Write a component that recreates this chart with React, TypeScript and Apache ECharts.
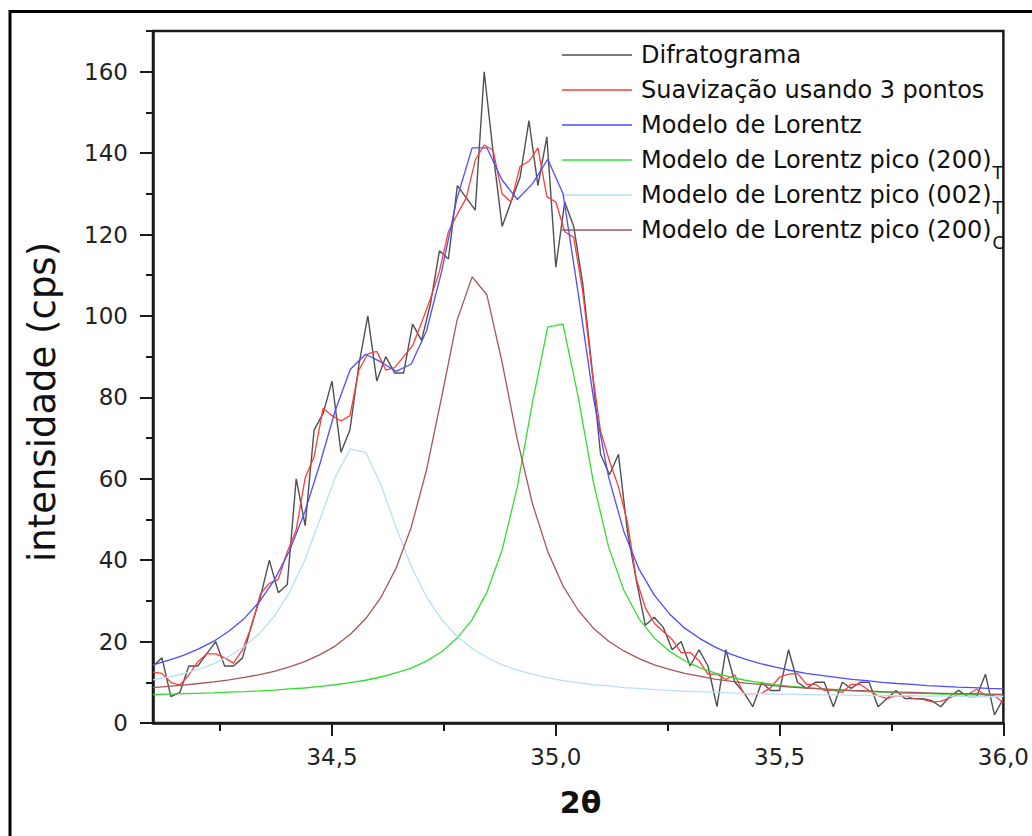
import React, { useEffect, useRef } from "react";
import * as echarts from "echarts";

// ---------- DATA ----------
const twoTheta = [
  34.10, 34.12, 34.14, 34.16, 34.18, 34.20, 34.22, 34.24, 34.26, 34.28,
  34.30, 34.32, 34.34, 34.36, 34.38, 34.40, 34.42, 34.44, 34.46, 34.48,
  34.50, 34.52, 34.54, 34.56, 34.58, 34.60, 34.62, 34.64, 34.66, 34.68,
  34.70, 34.72, 34.74, 34.76, 34.78, 34.80, 34.82, 34.84, 34.86, 34.88,
  34.90, 34.92, 34.94, 34.96, 34.98, 35.00, 35.02, 35.04, 35.06, 35.08,
  35.10, 35.12, 35.14, 35.16, 35.18, 35.20, 35.22, 35.24, 35.26, 35.28,
  35.30, 35.32, 35.34, 35.36, 35.38, 35.40, 35.42, 35.44, 35.46, 35.48,
  35.50, 35.52, 35.54, 35.56, 35.58, 35.60, 35.62, 35.64, 35.66, 35.68,
  35.70, 35.72, 35.74, 35.76, 35.78, 35.80, 35.82, 35.84, 35.86, 35.88,
  35.90, 35.92, 35.94, 35.96, 35.98, 36.00,
];

const difratograma = [
  14, 16, 6.5, 7.5, 14, 14, 17, 20, 14, 14,
  16, 24, 31, 40, 32, 34, 60, 48.5, 72, 76,
  84, 66.5, 72, 88, 100, 84, 90, 86, 86, 98,
  94, 103, 116, 114, 132, 129, 126, 160, 140, 122,
  128, 134, 148, 132, 144, 112, 128, 122, 108, 88,
  66, 61, 66, 47, 35, 24, 26, 23.5, 18, 20,
  14, 18, 14, 4, 18, 10, 7.5, 4, 10, 8,
  8, 18, 10, 8.5, 10, 10, 4, 10, 8.5, 10,
  10, 4, 6, 8, 6, 6, 6, 5.5, 4, 6.5,
  8, 6.5, 6.5, 12, 2, 6,
];

const suavizacao = [
  12.5, 12.2, 10, 9.3, 11.8, 15, 17, 17, 16, 14.7,
  18, 23.7, 31.7, 34.3, 35.3, 42, 47.5, 60.2, 65.5, 77.3,
  75.5, 74.2, 75.5, 86.7, 90.7, 91.3, 86.7, 87.3, 90, 92.7,
  98.3, 104.3, 111, 120.7, 125, 129, 138.3, 142, 140.7, 130,
  128, 136.7, 138, 141.3, 129.3, 128, 120.7, 119.3, 106, 87.3,
  71.7, 64.3, 58, 49.3, 35.3, 28.3, 24.5, 22.5, 20.5, 17.3,
  17.3, 15.3, 12, 12, 10.7, 11.8, 7.2, 7.2, 7.3, 8.7,
  11.3, 12, 12.2, 9.5, 9.5, 8, 8, 7.5, 9.5, 9.5,
  8, 6.7, 6, 6.7, 6.7, 6, 5.8, 5.2, 5.3, 6.2,
  7, 7, 8.3, 6.8, 6.7, 5,
];

const modelTheta = [
  34.100, 34.134, 34.168, 34.202, 34.236, 34.270, 34.304, 34.338, 34.371, 34.405,
  34.439, 34.473, 34.507, 34.541, 34.575, 34.609, 34.643, 34.677, 34.711, 34.745,
  34.779, 34.813, 34.846, 34.880, 34.914, 34.948, 34.982, 35.016, 35.050, 35.084,
  35.118, 35.152, 35.186, 35.220, 35.254, 35.288, 35.321, 35.355, 35.389, 35.423,
  35.457, 35.491, 35.525, 35.559, 35.593, 35.627, 35.661, 35.695, 35.729, 35.763,
  35.796, 35.830, 35.864, 35.898, 35.932, 35.966, 36.000,
];

const lorentzTotal = [
  14.3, 15.4, 16.6, 18.2, 20.1, 22.6, 25.7, 29.8, 35.1, 42.3,
  51.8, 63.7, 76.7, 86.9, 90.6, 88.7, 86.4, 88.2, 96.3, 111.0,
  128.8, 141.3, 141.3, 133.4, 128.6, 132.5, 138.5, 130.1, 105.6, 79.8,
  60.4, 47.0, 37.8, 31.4, 26.8, 23.3, 20.8, 18.7, 17.0, 15.7,
  14.6, 13.7, 12.9, 12.2, 11.7, 11.2, 10.7, 10.4, 10.0, 9.7,
  9.5, 9.2, 9.0, 8.8, 8.7, 8.5, 8.4,
];

const pico200T = [
  7.0, 7.1, 7.2, 7.3, 7.4, 7.6, 7.7, 7.9, 8.1, 8.4,
  8.6, 9.0, 9.4, 9.9, 10.5, 11.3, 12.3, 13.5, 15.2, 17.5,
  20.8, 25.4, 32.1, 42.5, 58.0, 78.8, 97.3, 98.0, 80.1, 59.1,
  43.2, 32.6, 25.6, 20.9, 17.6, 15.3, 13.6, 12.3, 11.3, 10.5,
  9.9, 9.4, 9.0, 8.7, 8.4, 8.1, 7.9, 7.7, 7.6, 7.4,
  7.3, 7.2, 7.1, 7.1, 7.0, 6.9, 6.9,
];

const pico002T = [
  10.6, 11.3, 12.1, 13.2, 14.6, 16.4, 18.8, 22.0, 26.2, 32.1,
  40.0, 50.0, 60.4, 67.3, 66.5, 58.6, 48.1, 38.5, 31.0, 25.4,
  21.3, 18.3, 16.1, 14.3, 13.0, 12.0, 11.1, 10.4, 9.9, 9.4,
  9.1, 8.7, 8.5, 8.2, 8.0, 7.8, 7.7, 7.6, 7.4, 7.3,
  7.2, 7.1, 7.1, 7.0, 6.9, 6.9, 6.8, 6.8, 6.7, 6.7,
  6.7, 6.6, 6.6, 6.6, 6.5, 6.5, 6.5,
];

const pico200C = [
  8.7, 9.0, 9.3, 9.7, 10.1, 10.6, 11.2, 11.9, 12.7, 13.8,
  15.1, 16.8, 18.9, 21.8, 25.6, 30.8, 38.0, 48.1, 62.1, 80.1,
  98.8, 109.6, 105.2, 88.6, 69.6, 53.8, 42.1, 33.7, 27.7, 23.3,
  20.1, 17.7, 15.8, 14.3, 13.2, 12.2, 11.5, 10.8, 10.3, 9.8,
  9.5, 9.1, 8.8, 8.6, 8.4, 8.2, 8.0, 7.9, 7.7, 7.6,
  7.5, 7.4, 7.3, 7.2, 7.2, 7.1, 7.0,
];

const xMajorTicks = [34.5, 35.0, 35.5, 36.0];
const xMinorTicks = [34.25, 34.75, 35.25, 35.75];
const yMajorTicks = [0, 20, 40, 60, 80, 100, 120, 140, 160];
const yMinorTicks = [10, 30, 50, 70, 90, 110, 130, 150, 170];

const seriesNames = [
  "Difratograma",
  "Suavização usando 3 pontos",
  "Modelo de Lorentz",
  "Modelo de Lorentz pico (200)T",
  "Modelo de Lorentz pico (002)T",
  "Modelo de Lorentz pico (200)C",
];
const legendRich: Record<string, string> = {
  "Modelo de Lorentz pico (200)T": "Modelo de Lorentz pico (200){sub|T}",
  "Modelo de Lorentz pico (002)T": "Modelo de Lorentz pico (002){sub|T}",
  "Modelo de Lorentz pico (200)C": "Modelo de Lorentz pico (200){sub|C}",
};
const seriesColors = ["#505050", "#ff3b3b", "#4d4dff", "#33dd33", "#b8defa", "#a65656"];

const FONT = "DejaVu Sans";
const INK = "#1a1a1a";

function pairs(xs: number[], ys: number[]) {
  return xs.map((x, i) => [x, ys[i]]);
}

export default function App() {
  const ref = useRef<HTMLDivElement>(null);

  useEffect(() => {
    if (!ref.current) return;
    const chart = echarts.init(ref.current, undefined, { renderer: "svg" });

    const dataSets = [
      pairs(twoTheta, difratograma),
      pairs(twoTheta, suavizacao),
      pairs(modelTheta, lorentzTotal),
      pairs(modelTheta, pico200T),
      pairs(modelTheta, pico002T),
      pairs(modelTheta, pico200C),
    ];

    const axisCommon = {
      type: "value" as const,
      splitLine: { show: false },
    };

    chart.setOption({
      animation: false,
      backgroundColor: "#ffffff",
      grid: {
        left: 153,
        top: 31,
        right: 24,
        bottom: 113,
        show: true,
        borderColor: INK,
        borderWidth: 2.5,
      },
      xAxis: [
        {
          ...axisCommon,
          min: 34.1,
          max: 36.0,
          position: "bottom",
          axisLine: { lineStyle: { color: INK, width: 2.5 } },
          axisTick: {
            customValues: xMajorTicks,
            length: 13,
            lineStyle: { color: INK, width: 2 },
          },
          axisLabel: {
            customValues: xMajorTicks,
            formatter: (v: number) => v.toFixed(1).replace(".", ","),
            margin: 22,
            fontSize: 23,
            fontFamily: FONT,
            color: "#222",
          },
        },
        {
          ...axisCommon,
          min: 34.1,
          max: 36.0,
          position: "bottom",
          axisLine: { show: false },
          axisTick: {
            customValues: xMinorTicks,
            length: 8,
            lineStyle: { color: INK, width: 2 },
          },
          axisLabel: { show: false },
        },
      ],
      yAxis: [
        {
          ...axisCommon,
          min: 0,
          max: 170,
          position: "left",
          axisLine: { show: true, lineStyle: { color: INK, width: 2.5 } },
          axisTick: {
            show: true,
            customValues: yMajorTicks,
            length: 13,
            lineStyle: { color: INK, width: 2 },
          },
          axisLabel: {
            customValues: yMajorTicks,
            margin: 25,
            fontSize: 23,
            fontFamily: FONT,
            color: "#222",
          },
        },
        {
          ...axisCommon,
          min: 0,
          max: 170,
          position: "left",
          axisLine: { show: false },
          axisTick: {
            show: true,
            customValues: yMinorTicks,
            length: 7,
            lineStyle: { color: INK, width: 2 },
          },
          axisLabel: { show: false },
        },
      ],
      legend: {
        orient: "vertical",
        left: 562,
        top: 33.5,
        padding: 0,
        itemGap: -8,
        itemWidth: 70,
        itemHeight: 1.5,
        icon: "rect",
        selectedMode: false,
        data: seriesNames,
        formatter: (name: string) => legendRich[name] || name,
        textStyle: {
          fontFamily: FONT,
          fontSize: 24,
          color: "#111",
          lineHeight: 43,
          padding: [0, 0, 0, 4],
          rich: {
            sub: {
              fontFamily: FONT,
              fontSize: 17,
              color: "#111",
              lineHeight: 17,
              padding: [26, 0, 0, 1],
            },
          },
        },
      },
      series: seriesNames.map((name, i) => ({
        name,
        type: "line",
        xAxisIndex: 0,
        yAxisIndex: 0,
        data: dataSets[i],
        symbol: "none",
        showSymbol: false,
        lineStyle: { color: seriesColors[i], width: i === 0 ? 1.4 : 1.3 },
        itemStyle: { color: seriesColors[i] },
        emphasis: { disabled: true },
        z: 2 + i,
      })),
      graphic: [
        {
          type: "rect",
          silent: true,
          z: 100,
          shape: { x: 10, y: 11.5, width: 1100, height: 900 },
          style: { fill: "none", stroke: "#000", lineWidth: 3 },
        },
        {
          type: "text",
          x: 42,
          y: 402,
          rotation: Math.PI / 2,
          style: {
            text: "intensidade (cps)",
            fontFamily: FONT,
            fontSize: 37,
            fill: "#111",
            align: "center",
            verticalAlign: "middle",
            textAlign: "center",
            textVerticalAlign: "middle",
          },
        },
        {
          type: "text",
          x: 580.5,
          y: 802,
          style: {
            text: "2θ",
            fontFamily: FONT,
            fontSize: 30,
            fontWeight: "bold",
            fill: "#111",
            align: "center",
            verticalAlign: "middle",
            textAlign: "center",
            textVerticalAlign: "middle",
          },
        },
      ],
    });

    return () => {
      chart.dispose();
    };
  }, []);

  return (
    <div
      ref={ref}
      style={{ position: "fixed", left: 0, top: 0, width: 1032, height: 836, background: "#fff" }}
    />
  );
}
